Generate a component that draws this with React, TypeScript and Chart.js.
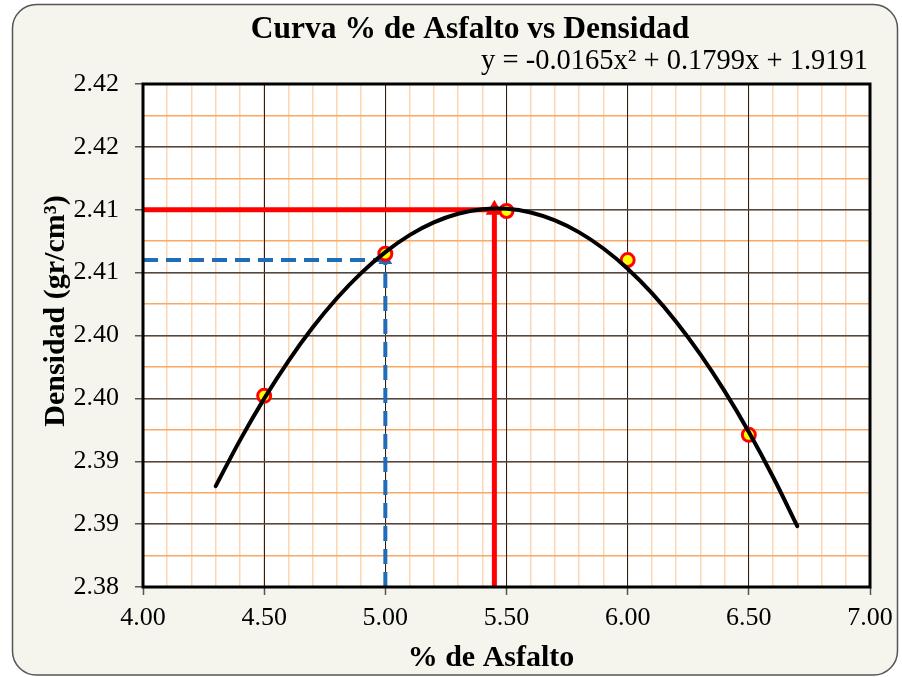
import React, { useEffect, useRef } from "react";
import { Chart, registerables } from "chart.js";

Chart.register(...registerables);

// ---- data ----
const asphaltPct = [4.5, 5.0, 5.5, 6.0, 6.5];
const density = [2.3952, 2.4065, 2.4099, 2.406, 2.3921];

// trendline
const trendPct = [4.3, 4.4, 4.5, 4.6, 4.7, 4.8, 4.9, 5.0, 5.1, 5.2, 5.3, 5.4, 5.5, 5.6, 5.7, 5.8, 5.9, 6.0, 6.1, 6.2, 6.3, 6.4, 6.5, 6.6, 6.7];
const trendDensity = [2.38802, 2.39166, 2.39498, 2.39797, 2.40063, 2.40296, 2.40496, 2.40663, 2.40798, 2.40899, 2.40968, 2.41004, 2.41007, 2.40978, 2.40915, 2.4082, 2.40692, 2.40531, 2.40337, 2.4011, 2.3985, 2.39558, 2.39233, 2.38875, 2.38484];

const optimumPct = 5.45;
const optimumDensity = 2.41;
const refPct = 5.0;
const refDensity = 2.406;

const xMin = 4;
const xMax = 7;
const xStep = 0.5;
const xMinorStep = 0.1;
const yMin = 2.38;
const yMax = 2.42;
const yStep = 0.005;
const yMinorStep = 0.0025;

const titleText = "Curva % de Asfalto vs Densidad";
const equationText = "y = -0.0165x² + 0.1799x + 1.9191";
const xTitleText = "% de Asfalto";
const yTitleText = "Densidad (gr/cm³)";

const FONT = '"Liberation Serif", "Times New Roman", serif';

const framePlugin = {
  id: "framePlugin",
  beforeDraw(chart: any) {
    const ctx = chart.ctx;
    const w = chart.width;
    const h = chart.height;
    ctx.save();
    ctx.fillStyle = "#ffffff";
    ctx.fillRect(0, 0, w, h);
    // outer rounded box
    const x0 = 12.5, y0 = 4.5, x1 = 897.5, y1 = 675, r = 24;
    ctx.beginPath();
    ctx.moveTo(x0 + r, y0);
    ctx.lineTo(x1 - r, y0);
    ctx.arcTo(x1, y0, x1, y0 + r, r);
    ctx.lineTo(x1, y1 - r);
    ctx.arcTo(x1, y1, x1 - r, y1, r);
    ctx.lineTo(x0 + r, y1);
    ctx.arcTo(x0, y1, x0, y1 - r, r);
    ctx.lineTo(x0, y0 + r);
    ctx.arcTo(x0, y0, x0 + r, y0, r);
    ctx.closePath();
    ctx.fillStyle = "#F5F5EE";
    ctx.fill();
    ctx.lineWidth = 1.5;
    ctx.strokeStyle = "#555555";
    ctx.stroke();
    const a = chart.chartArea;
    ctx.fillStyle = "#ffffff";
    ctx.fillRect(a.left, a.top, a.right - a.left, a.bottom - a.top);
    ctx.restore();
  },
  afterDatasetsDraw(chart: any) {
    const ctx = chart.ctx;
    const a = chart.chartArea;
    ctx.save();
    ctx.strokeStyle = "#000000";
    ctx.lineWidth = 3;
    ctx.strokeRect(a.left, a.top, a.right - a.left, a.bottom - a.top);
    ctx.restore();
  },
  afterDraw(chart: any) {
    const ctx = chart.ctx;
    ctx.save();
    ctx.fillStyle = "#000000";
    // title
    ctx.font = `bold 31.5px ${FONT}`;
    ctx.textAlign = "center";
    ctx.textBaseline = "alphabetic";
    ctx.fillText(titleText, 470, 38);
    // equation
    ctx.font = `28.5px ${FONT}`;
    ctx.textAlign = "right";
    ctx.fillText(equationText, 868, 69);
    // x title
    ctx.font = `bold 30px ${FONT}`;
    ctx.textAlign = "center";
    ctx.fillText(xTitleText, 491, 666);
    // y title
    ctx.translate(64, 311);
    ctx.rotate(-Math.PI / 2);
    ctx.fillText(yTitleText, 0, 0);
    ctx.restore();
  },
};

export default function App() {
  const ref = useRef<HTMLCanvasElement | null>(null);

  useEffect(() => {
    if (!ref.current) return;
    const blue = "#1F6DB8";
    const red = "#FF0000";
    const chart = new Chart(ref.current, {
      type: "scatter",
      data: {
        datasets: [
          {
            label: "trend",
            data: trendPct.map((x, i) => ({ x, y: trendDensity[i] })),
            showLine: true,
            borderColor: "#000000",
            borderWidth: 4,
            borderCapStyle: "round",
            tension: 0.35,
            pointRadius: 0,
            order: 1,
            xAxisID: "x",
            yAxisID: "y",
          },
          {
            label: "data",
            data: asphaltPct.map((x, i) => ({ x, y: density[i] })),
            showLine: false,
            pointRadius: 6.5,
            pointBackgroundColor: "#FFFF00",
            pointBorderColor: red,
            pointBorderWidth: 3,
            order: 2,
            xAxisID: "x",
            yAxisID: "y",
          },
          {
            label: "optH",
            data: [
              { x: xMin, y: optimumDensity },
              { x: optimumPct, y: optimumDensity },
            ],
            showLine: true,
            borderColor: red,
            borderWidth: 5,
            pointRadius: 0,
            order: 3,
            xAxisID: "x",
            yAxisID: "y",
          },
          {
            label: "optV",
            data: [
              { x: optimumPct, y: yMin },
              { x: optimumPct, y: optimumDensity },
            ],
            showLine: true,
            borderColor: red,
            borderWidth: 5,
            pointRadius: [0, 10],
            pointStyle: "triangle",
            pointBackgroundColor: red,
            pointBorderColor: red,
            pointBorderWidth: 0,
            order: 3,
            xAxisID: "x",
            yAxisID: "y",
          },
          {
            label: "refH",
            data: [
              { x: xMin, y: refDensity },
              { x: refPct, y: refDensity },
            ],
            showLine: true,
            borderColor: blue,
            borderWidth: 4,
            borderDash: [15, 8],
            pointRadius: 0,
            order: 4,
            xAxisID: "x",
            yAxisID: "y",
          },
          {
            label: "refV",
            data: [
              { x: refPct, y: yMin },
              { x: refPct, y: refDensity },
            ],
            showLine: true,
            borderColor: blue,
            borderWidth: 4,
            borderDash: [15, 8],
            pointRadius: [0, 8],
            pointStyle: "triangle",
            pointBackgroundColor: blue,
            pointBorderColor: blue,
            pointBorderWidth: 0,
            order: 4,
            xAxisID: "x",
            yAxisID: "y",
          },
        ],
      },
      options: {
        responsive: false,
        animation: false,
        events: [],
        layout: { padding: { left: 0, right: 32, top: 84, bottom: 0 } },
        plugins: {
          legend: { display: false },
          tooltip: { enabled: false },
          title: { display: false },
        },
        scales: {
          x: {
            type: "linear",
            position: "bottom",
            min: xMin,
            max: xMax,
            ticks: {
              stepSize: xStep,
              autoSkip: false,
              maxRotation: 0,
              padding: 8,
              color: "#000000",
              font: { family: FONT, size: 26 },
              callback: (v: any) => Number(v).toFixed(2),
            },
            grid: { color: "#222222", lineWidth: 1, tickColor: "#555555", tickWidth: 1.5, tickLength: 8, z: -1 },
            border: { display: false },
            afterFit: (s: any) => {
              s.height = 90;
            },
          },
          y: {
            type: "linear",
            position: "left",
            min: yMin,
            max: yMax,
            ticks: {
              stepSize: yStep,
              autoSkip: false,
              padding: 16,
              color: "#000000",
              font: { family: FONT, size: 26 },
              callback: (v: any) => (Math.round(Number(v) * 100 + 1e-6) / 100).toFixed(2),
            },
            grid: { color: "#4a4a4a", lineWidth: 1.5, tickColor: "#555555", tickWidth: 1.5, tickLength: 8, z: -1 },
            border: { display: false },
            afterFit: (s: any) => {
              s.width = 143;
            },
          },
          x2: {
            type: "linear",
            position: "bottom",
            min: xMin,
            max: xMax,
            ticks: { stepSize: xMinorStep, display: false },
            grid: { color: "#FCD5B4", lineWidth: 1.5, drawTicks: false, z: -2 },
            border: { display: false },
            afterFit: (s: any) => {
              s.height = 0;
            },
          },
          y2: {
            type: "linear",
            position: "left",
            min: yMin,
            max: yMax,
            ticks: { stepSize: yMinorStep, display: false },
            grid: { color: "#F9A865", lineWidth: 1.5, drawTicks: false, z: -2 },
            border: { display: false },
            afterFit: (s: any) => {
              s.width = 0;
            },
          },
        },
      } as any,
      plugins: [framePlugin],
    });
    return () => chart.destroy();
  }, []);

  return (
    <div style={{ position: "absolute", left: 0, top: 0, width: 902, height: 677 }}>
      <canvas ref={ref} width={902} height={677} style={{ display: "block" }} />
    </div>
  );
}
